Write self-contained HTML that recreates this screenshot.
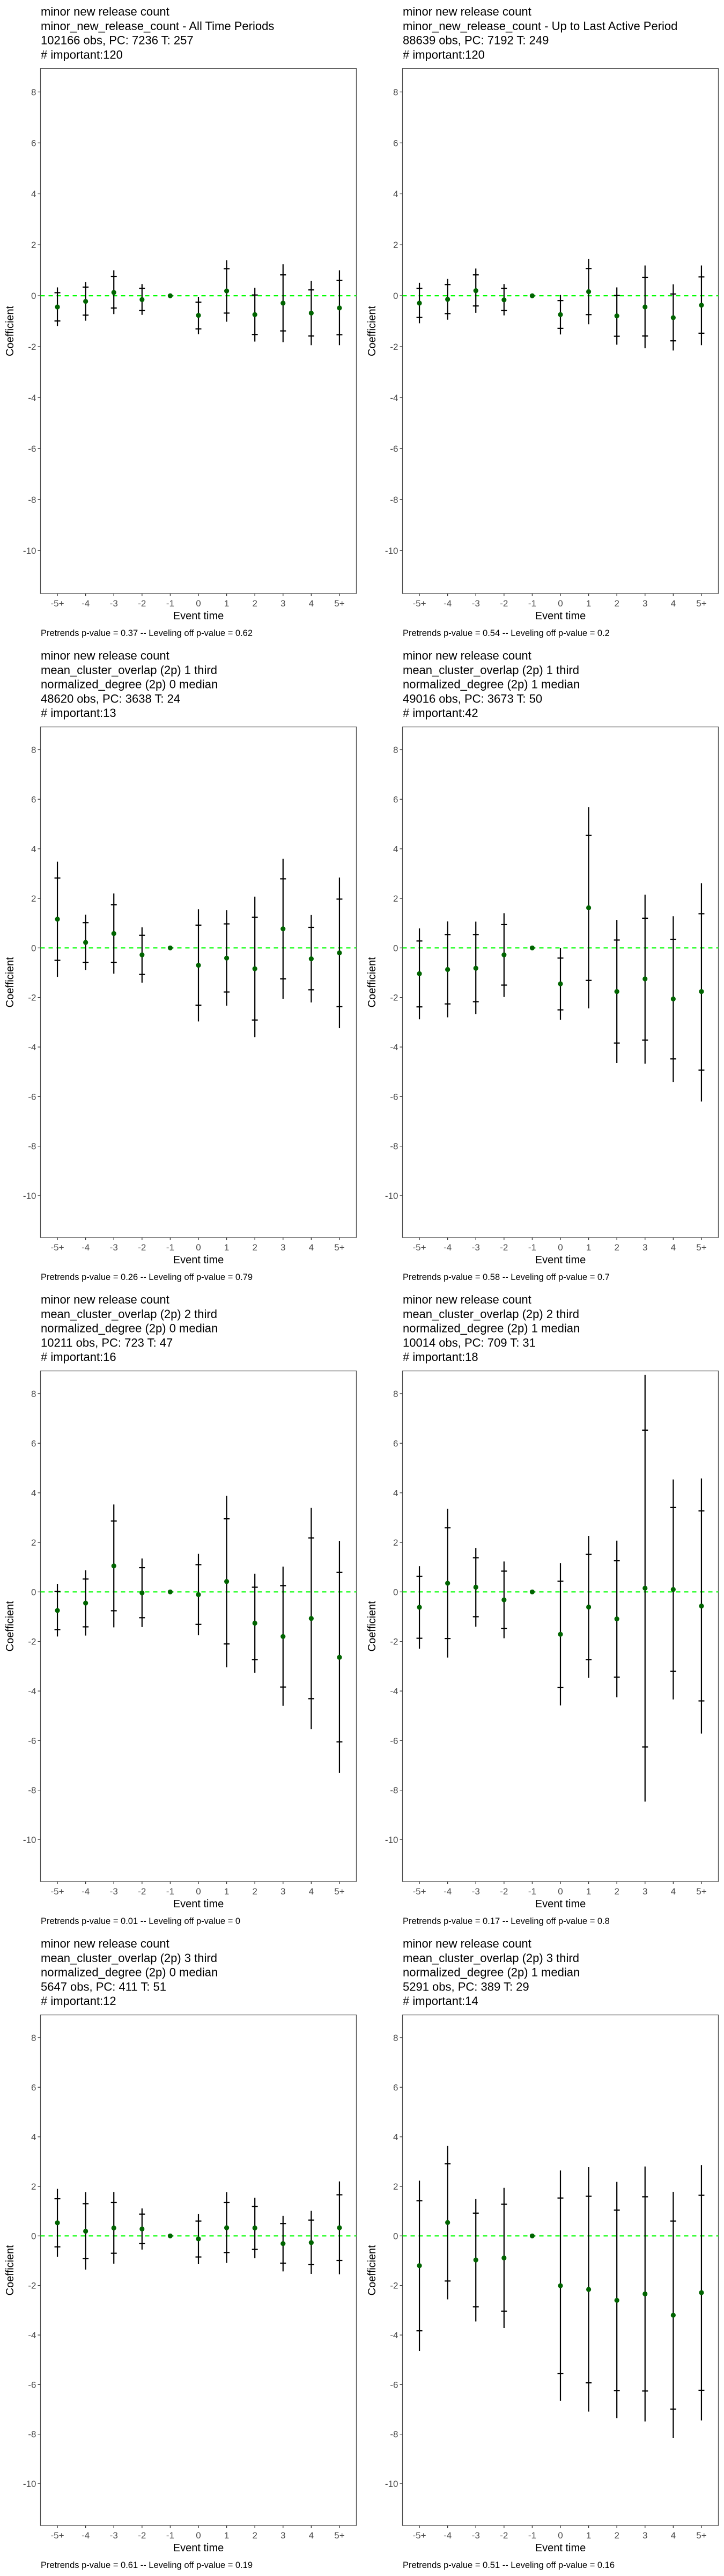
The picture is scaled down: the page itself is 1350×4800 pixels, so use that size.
<!DOCTYPE html>
<html>
<head>
<meta charset="utf-8">
<style>
  html,body{margin:0;padding:0;background:#fff;}
  body{width:1350px;height:4800px;position:relative;overflow:hidden;font-family:"Liberation Sans",Arial,sans-serif;}
  svg{position:absolute;}
  .title{font-size:22px;fill:#000;}
  .tick{font-size:17px;fill:#4d4d4d;}
  .axt{font-size:20px;fill:#000;}
  .cap{font-size:16.5px;fill:#000;}
</style>
</head>
<body>
<script>
const categories = ["-5+","-4","-3","-2","-1","0","1","2","3","4","5+"];
const yTickValues = [8,6,4,2,0,-2,-4,-6,-8,-10];
const yTickLabels = ["8","6","4","2","0","-2","-4","-6","-8","-10"];

// Panel 1
const p1Coef  = [-0.44,-0.22,0.13,-0.15,0,-0.77,0.19,-0.74,-0.29,-0.68,-0.48];
const p1InLo  = [-0.99,-0.76,-0.48,-0.58,null,-1.30,-0.68,-1.52,-1.38,-1.58,-1.53];
const p1InHi  = [0.12,0.34,0.76,0.29,null,-0.25,1.06,0.03,0.82,0.23,0.60];
const p1OutLo = [-1.19,-0.98,-0.72,-0.75,null,-1.51,-1.02,-1.80,-1.82,-1.94,-1.94];
const p1OutHi = [0.33,0.54,1.00,0.46,null,-0.04,1.39,0.31,1.24,0.58,1.00];
// Panel 2
const p2Coef  = [-0.29,-0.14,0.20,-0.16,0,-0.74,0.16,-0.79,-0.44,-0.86,-0.37];
const p2InLo  = [-0.85,-0.70,-0.40,-0.58,null,-1.28,-0.74,-1.59,-1.58,-1.77,-1.47];
const p2InHi  = [0.29,0.44,0.82,0.29,null,-0.19,1.07,0.01,0.72,0.07,0.74];
const p2OutLo = [-1.08,-0.94,-0.67,-0.77,null,-1.52,-1.12,-1.92,-2.06,-2.15,-1.94];
const p2OutHi = [0.51,0.66,1.07,0.46,null,0.03,1.44,0.33,1.19,0.45,1.19];
// Panel 3
const p3Coef  = [1.16,0.22,0.58,-0.28,0,-0.70,-0.41,-0.84,0.77,-0.44,-0.20];
const p3InLo  = [-0.50,-0.58,-0.58,-1.07,null,-2.31,-1.78,-2.91,-1.25,-1.69,-2.37];
const p3InHi  = [2.82,1.02,1.74,0.51,null,0.92,0.97,1.24,2.79,0.83,1.97];
const p3OutLo = [-1.17,-0.89,-1.04,-1.40,null,-2.97,-2.33,-3.60,-2.05,-2.20,-3.24];
const p3OutHi = [3.48,1.34,2.20,0.83,null,1.56,1.52,2.07,3.60,1.33,2.84];
// Panel 4
const p4Coef  = [-1.04,-0.87,-0.82,-0.28,0,-1.45,1.62,-1.76,-1.25,-2.06,-1.76];
const p4InLo  = [-2.38,-2.26,-2.17,-1.50,null,-2.50,-1.31,-3.84,-3.72,-4.48,-4.93];
const p4InHi  = [0.28,0.54,0.54,0.94,null,-0.41,4.54,0.32,1.20,0.34,1.38];
const p4OutLo = [-2.88,-2.80,-2.67,-1.98,null,-2.90,-2.44,-4.65,-4.67,-5.41,-6.20];
const p4OutHi = [0.79,1.07,1.06,1.40,null,0.00,5.68,1.13,2.15,1.28,2.61];
// Panel 5
const p5Coef  = [-0.75,-0.45,1.05,-0.04,0,-0.11,0.42,-1.26,-1.80,-1.07,-2.64];
const p5InLo  = [-1.52,-1.41,-0.76,-1.04,null,-1.31,-2.10,-2.73,-3.84,-4.31,-6.05];
const p5InHi  = [0.02,0.52,2.86,0.98,null,1.10,2.95,0.19,0.25,2.18,0.79];
const p5OutLo = [-1.80,-1.76,-1.43,-1.42,null,-1.75,-3.04,-3.26,-4.60,-5.54,-7.31];
const p5OutHi = [0.31,0.87,3.53,1.35,null,1.54,3.88,0.73,1.02,3.39,2.06];
// Panel 6
const p6Coef  = [-0.62,0.35,0.19,-0.32,0,-1.71,-0.61,-1.09,0.15,0.10,-0.57];
const p6InLo  = [-1.87,-1.88,-1.00,-1.47,null,-3.85,-2.73,-3.44,-6.26,-3.20,-4.40];
const p6InHi  = [0.63,2.59,1.38,0.84,null,0.43,1.52,1.26,6.53,3.41,3.27];
const p6OutLo = [-2.29,-2.65,-1.40,-1.87,null,-4.58,-3.47,-4.25,-8.46,-4.34,-5.72];
const p6OutHi = [1.04,3.35,1.77,1.23,null,1.16,2.26,2.07,8.76,4.54,4.58];
// Panel 7
const p7Coef  = [0.53,0.19,0.32,0.28,0,-0.12,0.33,0.32,-0.31,-0.27,0.33];
const p7InLo  = [-0.44,-0.91,-0.70,-0.30,null,-0.85,-0.67,-0.54,-1.10,-1.16,-0.99];
const p7InHi  = [1.50,1.30,1.35,0.88,null,0.60,1.35,1.19,0.50,0.64,1.66];
const p7OutLo = [-0.84,-1.36,-1.12,-0.55,null,-1.14,-1.09,-0.90,-1.43,-1.53,-1.55];
const p7OutHi = [1.90,1.76,1.77,1.11,null,0.89,1.76,1.54,0.81,1.01,2.20];
// Panel 8
const p8Coef  = [-1.20,0.54,-0.97,-0.89,0,-2.01,-2.16,-2.60,-2.34,-3.20,-2.29];
const p8InLo  = [-3.83,-1.82,-2.86,-3.04,null,-5.56,-5.93,-6.24,-6.26,-6.99,-6.23];
const p8InHi  = [1.42,2.91,0.92,1.28,null,1.53,1.60,1.04,1.58,0.60,1.64];
const p8OutLo = [-4.65,-2.56,-3.45,-3.72,null,-6.66,-7.09,-7.36,-7.49,-8.16,-7.45];
const p8OutHi = [2.23,3.63,1.49,1.94,null,2.64,2.78,2.18,2.80,1.78,2.86];

const p1Title = ["minor new release count","minor_new_release_count - All Time Periods","102166 obs, PC: 7236 T: 257","# important:120"];
const p2Title = ["minor new release count","minor_new_release_count - Up to Last Active Period","88639 obs, PC: 7192 T: 249","# important:120"];
const p3Title = ["minor new release count","mean_cluster_overlap (2p) 1 third","normalized_degree (2p) 0 median","48620 obs, PC: 3638 T: 24","# important:13"];
const p4Title = ["minor new release count","mean_cluster_overlap (2p) 1 third","normalized_degree (2p) 1 median","49016 obs, PC: 3673 T: 50","# important:42"];
const p5Title = ["minor new release count","mean_cluster_overlap (2p) 2 third","normalized_degree (2p) 0 median","10211 obs, PC: 723 T: 47","# important:16"];
const p6Title = ["minor new release count","mean_cluster_overlap (2p) 2 third","normalized_degree (2p) 1 median","10014 obs, PC: 709 T: 31","# important:18"];
const p7Title = ["minor new release count","mean_cluster_overlap (2p) 3 third","normalized_degree (2p) 0 median","5647 obs, PC: 411 T: 51","# important:12"];
const p8Title = ["minor new release count","mean_cluster_overlap (2p) 3 third","normalized_degree (2p) 1 median","5291 obs, PC: 389 T: 29","# important:14"];

const p1Caption = "Pretrends p-value = 0.37 -- Leveling off p-value = 0.62";
const p2Caption = "Pretrends p-value = 0.54 -- Leveling off p-value = 0.2";
const p3Caption = "Pretrends p-value = 0.26 -- Leveling off p-value = 0.79";
const p4Caption = "Pretrends p-value = 0.58 -- Leveling off p-value = 0.7";
const p5Caption = "Pretrends p-value = 0.01 -- Leveling off p-value = 0";
const p6Caption = "Pretrends p-value = 0.17 -- Leveling off p-value = 0.8";
const p7Caption = "Pretrends p-value = 0.61 -- Leveling off p-value = 0.19";
const p8Caption = "Pretrends p-value = 0.51 -- Leveling off p-value = 0.16";

const NS = "http://www.w3.org/2000/svg";
function mk(tag, attrs, parent){
  const e = document.createElementNS(NS, tag);
  for (const k in attrs) e.setAttribute(k, attrs[k]);
  parent.appendChild(e);
  return e;
}

const panels = [
  {title:p1Title, cap:p1Caption, coef:p1Coef, inLo:p1InLo, inHi:p1InHi, outLo:p1OutLo, outHi:p1OutHi},
  {title:p2Title, cap:p2Caption, coef:p2Coef, inLo:p2InLo, inHi:p2InHi, outLo:p2OutLo, outHi:p2OutHi},
  {title:p3Title, cap:p3Caption, coef:p3Coef, inLo:p3InLo, inHi:p3InHi, outLo:p3OutLo, outHi:p3OutHi},
  {title:p4Title, cap:p4Caption, coef:p4Coef, inLo:p4InLo, inHi:p4InHi, outLo:p4OutLo, outHi:p4OutHi},
  {title:p5Title, cap:p5Caption, coef:p5Coef, inLo:p5InLo, inHi:p5InHi, outLo:p5OutLo, outHi:p5OutHi},
  {title:p6Title, cap:p6Caption, coef:p6Coef, inLo:p6InLo, inHi:p6InHi, outLo:p6OutLo, outHi:p6OutHi},
  {title:p7Title, cap:p7Caption, coef:p7Coef, inLo:p7InLo, inHi:p7InHi, outLo:p7OutLo, outHi:p7OutHi},
  {title:p8Title, cap:p8Caption, coef:p8Coef, inLo:p8InLo, inHi:p8InHi, outLo:p8OutLo, outHi:p8OutHi}
];

const Y_MAX = 8.92, Y_MIN = -11.69;
const PL = 75.5, PR = 664.5, PB = 1106;

panels.forEach((p, i) => {
  const col = i % 2, row = Math.floor(i / 2);
  const svg = mk('svg', {width:675, height:1200, viewBox:'0 0 675 1200'}, document.body);
  svg.style.left = (col*675) + 'px';
  svg.style.top = (row*1200) + 'px';
  
  

  const nLines = p.title.length;
  const PT = 127.7 + (nLines - 4) * 26.8;
  const yScale = v => PT + (Y_MAX - v) / (Y_MAX - Y_MIN) * (PB - PT);
  const step = (PR - PL) / (categories.length - 1 + 1.2);
  const xScale = k => PL + step * 0.6 + k * step;

  // titles
  const tg = mk('g', {}, svg);
  
  
  p.title.forEach((line, li) => {
    const t = mk('text', {x:76, y:29 + li*26.8, class:'title'}, tg);
    t.textContent = line;
  });

  // panel border
  const border = mk('rect', {x:PL, y:PT, width:PR-PL, height:PB-PT, fill:'#fff', stroke:'#4d4d4d', 'stroke-width':1.3}, svg);
  
  

  // y axis ticks
  const yg = mk('g', {}, svg);
  
  
  yTickValues.forEach((v, k) => {
    const y = yScale(v);
    mk('line', {x1:PL-5, x2:PL, y1:y, y2:y, stroke:'#333', 'stroke-width':1.3}, yg);
    const t = mk('text', {x:PL-8, y:y+6, 'text-anchor':'end', class:'tick'}, yg);
    t.textContent = yTickLabels[k];
  });
  const yt = mk('text', {x:0, y:0, 'text-anchor':'middle', class:'axt', transform:'translate(25,' + ((PT+PB)/2) + ') rotate(-90)'}, svg);
  yt.textContent = 'Coefficient';
  
  

  // x axis ticks
  const xg = mk('g', {}, svg);
  
  
  categories.forEach((c, k) => {
    const x = xScale(k);
    mk('line', {x1:x, x2:x, y1:PB, y2:PB+5, stroke:'#333', 'stroke-width':1.3}, xg);
    const t = mk('text', {x:x, y:PB+24, 'text-anchor':'middle', class:'tick'}, xg);
    t.textContent = c;
  });
  const xt = mk('text', {x:(PL+PR)/2, y:1154, 'text-anchor':'middle', class:'axt'}, svg);
  xt.textContent = 'Event time';
  
  

  // zero reference line
  const zl = mk('line', {x1:PL, x2:PR, y1:yScale(0), y2:yScale(0), stroke:'#00ff00', 'stroke-width':2.2, 'stroke-dasharray':'8,7'}, svg);
  
  

  // series
  const sg = mk('g', {}, svg);
  
  
  categories.forEach((c, k) => {
    const x = xScale(k);
    if (p.outLo[k] !== null) {
      const eb = mk('line', {x1:x, x2:x, y1:yScale(p.outLo[k]), y2:yScale(p.outHi[k]), stroke:'#000', 'stroke-width':2.2}, sg);
      
      
      [p.inLo[k], p.inHi[k]].forEach(v => {
        const cb = mk('line', {x1:x-5.5, x2:x+5.5, y1:yScale(v), y2:yScale(v), stroke:'#000', 'stroke-width':2.2}, sg);
        
        
      });
    }
    const pt = mk('circle', {cx:x, cy:yScale(p.coef[k]), r:4.6, fill:'#006400'}, sg);
    
    
  });

  // caption
  const cap = mk('text', {x:76, y:1185, class:'cap'}, svg);
  cap.textContent = p.cap;
  
  
});
</script>
</body>
</html>
